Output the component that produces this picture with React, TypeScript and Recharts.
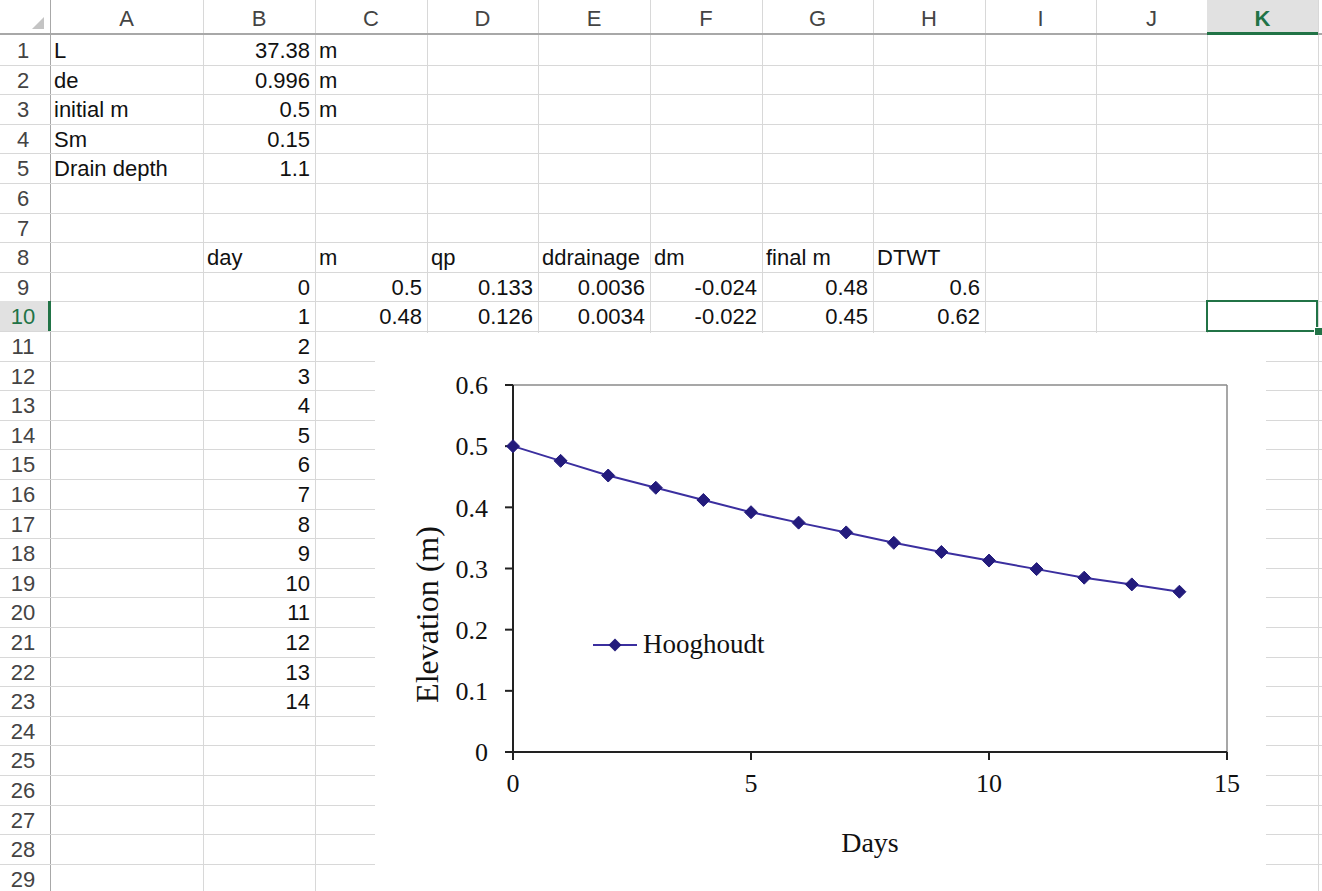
import React from "react";
import {
  Label, Legend, Line, LineChart, ReferenceLine, XAxis, YAxis,
} from "recharts";

const days = [0, 1, 2, 3, 4, 5, 6, 7, 8, 9, 10, 11, 12, 13, 14];
const elevation = [0.5, 0.476, 0.452, 0.432, 0.412, 0.392, 0.375, 0.359, 0.342, 0.327, 0.313, 0.299, 0.285, 0.274, 0.262];
const xTicks = [0, 5, 10, 15];
const yTicks = [0, 0.1, 0.2, 0.3, 0.4, 0.5, 0.6];
const seriesName = "Hooghoudt";

// sheet text
const colNames = ["A", "B", "C", "D", "E", "F", "G", "H", "I", "J", "K"];
const paramNames = ["L", "de", "initial m", "Sm", "Drain depth"];
const paramValues = ["37.38", "0.996", "0.5", "0.15", "1.1"];
const paramUnits = ["m", "m", "m"];
const tableHeaders = ["day", "m", "qp", "ddrainage", "dm", "final m", "DTWT"];
const row9 = ["0.5", "0.133", "0.0036", "-0.024", "0.48", "0.6"];
const row10 = ["0.48", "0.126", "0.0034", "-0.022", "0.45", "0.62"];

const data = days.map((d, i) => ({ day: d, elevation: elevation[i] }));

const COLS = [0, 50, 203, 315, 427, 538, 650, 762, 873, 985, 1096, 1207, 1318, 1322];
const HEADER_H = 35;
const ROW_H = 29.6;
const NROWS = 29;
const GRID = "#d8d8d8";
const GREEN = "#217346";
const SHEET_FONT = "'Liberation Sans', Arial, sans-serif";
const SHEET_SIZE = 22;
const SERIF = "'Liberation Serif', 'Times New Roman', serif";
const LINE = "#3b2f9f";
const MARK = "#231b7c";

const rowTop = (r: number) => HEADER_H + (r - 1) * ROW_H;

function Cell({ col, row, text, right }: { col: number; row: number; text: string; right?: boolean }) {
  return (
    <div
      style={{
        position: "absolute",
        left: COLS[col] + 4,
        width: COLS[col + 1] - COLS[col] - 9,
        top: rowTop(row) + 1,
        height: ROW_H,
        lineHeight: `${ROW_H}px`,
        textAlign: right ? "right" : "left",
        fontFamily: SHEET_FONT,
        fontSize: SHEET_SIZE,
        color: "#111",
        whiteSpace: "nowrap",
      }}
    >
      {text}
    </div>
  );
}

function Sheet() {
  const lines: React.ReactNode[] = [];
  for (let i = 1; i < COLS.length - 1; i++) {
    lines.push(
      <div key={"v" + i} style={{ position: "absolute", left: COLS[i], top: 0, width: 1, height: 891, background: i === 1 ? "#a8a8a8" : GRID }} />
    );
  }
  for (let r = 1; r <= NROWS; r++) {
    lines.push(
      <div key={"h" + r} style={{ position: "absolute", left: 0, top: Math.round(rowTop(r) + ROW_H), width: 1322, height: 1, background: GRID }} />
    );
  }
  const cells: React.ReactNode[] = [];
  paramNames.forEach((t, i) => cells.push(<Cell key={"a" + i} col={1} row={i + 1} text={t} />));
  paramValues.forEach((t, i) => cells.push(<Cell key={"b" + i} col={2} row={i + 1} text={t} right />));
  paramUnits.forEach((t, i) => cells.push(<Cell key={"c" + i} col={3} row={i + 1} text={t} />));
  tableHeaders.forEach((t, i) => cells.push(<Cell key={"th" + i} col={i + 2} row={8} text={t} />));
  row9.forEach((t, i) => cells.push(<Cell key={"r9" + i} col={i + 3} row={9} text={t} right />));
  row10.forEach((t, i) => cells.push(<Cell key={"r10" + i} col={i + 3} row={10} text={t} right />));
  days.forEach((d, i) => cells.push(<Cell key={"d" + i} col={2} row={9 + i} text={String(d)} right />));

  return (
    <>
      {lines}
      {/* column header */}
      <div style={{ position: "absolute", left: COLS[11], top: 0, width: COLS[12] - COLS[11], height: HEADER_H, background: "#e1e1e1" }} />
      <div style={{ position: "absolute", left: 0, top: 0, width: 1322, height: HEADER_H, borderBottom: "2px solid #a8a8a8", boxSizing: "border-box" }} />
      <div style={{ position: "absolute", left: COLS[11], top: HEADER_H - 3, width: COLS[12] - COLS[11], height: 3, background: GREEN }} />
      {colNames.map((c, i) => (
        <div key={c} style={{
          position: "absolute", left: COLS[i + 1], width: COLS[i + 2] - COLS[i + 1], top: 2, height: HEADER_H - 2,
          lineHeight: `${HEADER_H - 2}px`, textAlign: "center", fontFamily: SHEET_FONT, fontSize: SHEET_SIZE,
          color: c === "K" ? GREEN : "#444", fontWeight: c === "K" ? "bold" : "normal",
        }}>{c}</div>
      ))}
      <svg style={{ position: "absolute", left: 30, top: 17 }} width={16} height={14}>
        <polygon points="14,0 14,12 2,12" fill="#c4c4c4" />
      </svg>
      {/* row header */}
      <div style={{ position: "absolute", left: 0, top: rowTop(10), width: COLS[1], height: ROW_H, background: "#e1e1e1" }} />
      <div style={{ position: "absolute", left: COLS[1] - 2, top: rowTop(10), width: 3, height: ROW_H, background: GREEN }} />
      {Array.from({ length: NROWS }, (_, i) => (
        <div key={"rn" + i} style={{
          position: "absolute", left: 0, width: COLS[1] - 4, top: rowTop(i + 1) + 1, height: ROW_H,
          lineHeight: `${ROW_H}px`, textAlign: "center", fontFamily: SHEET_FONT, fontSize: SHEET_SIZE,
          color: i === 9 ? GREEN : "#444",
        }}>{i + 1}</div>
      ))}
      {cells}
      {/* selected cell K10 */}
      <div style={{ position: "absolute", left: COLS[11] - 1, top: rowTop(10) - 1, width: COLS[12] - COLS[11] + 1, height: ROW_H + 2, border: `2px solid ${GREEN}`, boxSizing: "border-box" }} />
      <div style={{ position: "absolute", left: COLS[12] - 4, top: rowTop(10) + ROW_H - 4, width: 7, height: 7, background: GREEN, border: "1px solid #fff" }} />
    </>
  );
}

const Diamond = (props: any) => {
  const { cx, cy } = props;
  if (cx == null || cy == null) return null;
  const s = 6.5;
  return <path d={`M${cx},${cy - s}L${cx + s},${cy}L${cx},${cy + s}L${cx - s},${cy}Z`} fill={MARK} stroke={MARK} strokeWidth={1} />;
};

const LegendBox = () => (
  <div style={{ display: "flex", alignItems: "center", fontFamily: SERIF, fontSize: 27, color: "#111" }}>
    <svg width={50} height={20}>
      <line x1={0} y1={10} x2={44} y2={10} stroke={LINE} strokeWidth={2} />
      <path d="M22,3.5L28.5,10L22,16.5L15.5,10Z" fill={MARK} />
    </svg>
    <span>{seriesName}</span>
  </div>
);

const yLabel = (props: any) => {
  const { x, y, height } = props.viewBox;
  const cx = x + 52;
  const cy = y + height / 2 + 46;
  return (
    <text x={cx} y={cy} transform={`rotate(-90 ${cx} ${cy})`} textAnchor="middle" dominantBaseline="central"
      fontFamily={SERIF} fontSize={32} fill="#111">Elevation (m)</text>
  );
};

const xLabel = (props: any) => {
  const { x, y, width } = props.viewBox;
  return (
    <text x={x + width / 2} y={y + 100} textAnchor="middle" fontFamily={SERIF} fontSize={28} fill="#111">Days</text>
  );
};

function Chart() {
  const tick = { fill: "#111", fontSize: 26, fontFamily: SERIF };
  return (
    <div style={{ position: "absolute", left: 375, top: 333, width: 891, height: 558, background: "#fff" }}>
      <LineChart width={891} height={558} data={data} margin={{ top: 52, right: 39, left: 0, bottom: 0 }}>
        <XAxis
          type="number" dataKey="day" domain={[0, 15]} ticks={xTicks} height={139}
          stroke="#222" strokeWidth={2} tickSize={8} tickMargin={14} tick={tick}
        >
          <Label content={xLabel} />
        </XAxis>
        <YAxis
          type="number" domain={[0, 0.6]} ticks={yTicks} width={138}
          stroke="#222" strokeWidth={2} tickSize={8} tickMargin={17} tick={tick}
        >
          <Label content={yLabel} />
        </YAxis>
        <ReferenceLine y={0.6} stroke="#8a8a8a" strokeWidth={1.5} />
        <ReferenceLine x={15} stroke="#8a8a8a" strokeWidth={1.5} />
        <Legend
          layout="vertical" align="center" verticalAlign="middle"
          wrapperStyle={{ left: 218, top: 296, width: "auto" }}
          content={LegendBox}
        />
        <Line
          type="linear" dataKey="elevation" name={seriesName} stroke={LINE} strokeWidth={2}
          dot={<Diamond />} activeDot={false} isAnimationActive={false}
        />
      </LineChart>
    </div>
  );
}

export default function App() {
  return (
    <div style={{ position: "absolute", left: 0, top: 0, width: 1322, height: 891, overflow: "hidden", background: "#fff" }}>
      <Sheet />
      <Chart />
    </div>
  );
}
